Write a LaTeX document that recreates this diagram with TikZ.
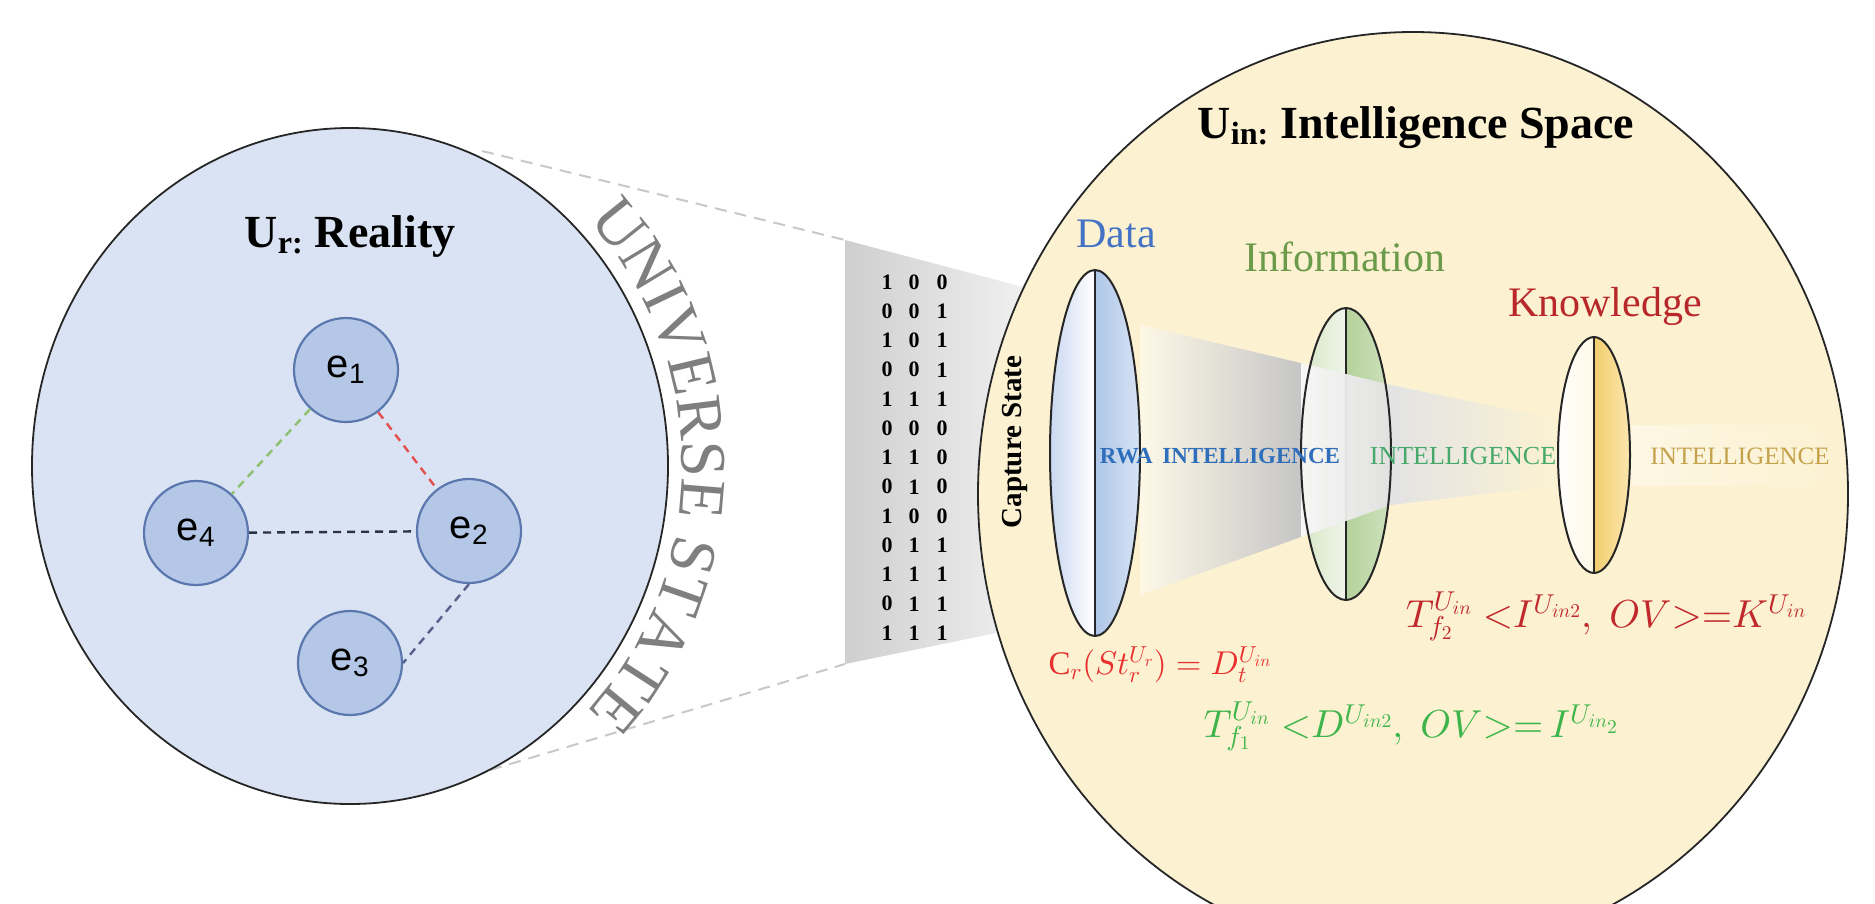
\documentclass[tikz,border=0pt]{standalone}
\usepackage{fontspec}
\setmainfont{Liberation Serif}
\newfontfamily\esans{Liberation Sans}
\DeclareFontShape{OML}{cmm}{m}{it}{<->cmmi10}{}
\DeclareFontShape{OMS}{cmsy}{m}{n}{<->cmsy10}{}
\DeclareFontShape{OT1}{cmr}{m}{n}{<->cmr10}{}
\usetikzlibrary{decorations.text,shapes.geometric}
\definecolor{leftfill}{HTML}{DAE3F3}
\definecolor{nodefill}{HTML}{B4C7E7}
\definecolor{nodeline}{HTML}{5B78AE}
\definecolor{rightfill}{HTML}{FCF2D2}
\definecolor{dashgray}{HTML}{C8C8C8}
\definecolor{unigray}{HTML}{7F7F7F}
\definecolor{cdata}{HTML}{4472C4}
\definecolor{cinfo}{HTML}{6A9A4A}
\definecolor{cknow}{HTML}{B8282B}
\definecolor{crwa}{HTML}{2F6EBA}
\definecolor{cint}{HTML}{46A86A}
\definecolor{cgold}{HTML}{C4A24C}
\definecolor{fred}{HTML}{E8302F}
\definecolor{fdred}{HTML}{C0282B}
\definecolor{fgreen}{HTML}{3DB54A}
\definecolor{egreen}{HTML}{8CBF6E}
\definecolor{ered}{HTML}{E4504F}
\definecolor{edark}{HTML}{2B3245}
\definecolor{eblue}{HTML}{56618C}
\newcommand\unifont{\fontsize{65}{65}\selectfont\color{unigray}}
\begin{document}
\begin{tikzpicture}[x=1pt,y=-1pt,
  enode/.style={circle,draw=nodeline,fill=nodefill,line width=2.2,minimum size=104,inner sep=0pt,font=\esans\fontsize{40}{40}\selectfont},
  edash/.style={dashed,dash pattern=on 8pt off 6pt,line width=2.4},
  graydash/.style={draw=dashgray,line width=2,dash pattern=on 12pt off 8pt},
  lensline/.style={draw=black!85,line width=2},
  bit/.style={font=\bfseries\fontsize{22}{22}\selectfont,inner sep=0pt},
  ttl/.style={font=\bfseries\fontsize{46}{50}\selectfont,anchor=base},
  lbl/.style={font=\fontsize{42}{44}\selectfont,anchor=base},
]
\useasboundingbox (0,0) rectangle (1875,903);
\fill[white] (0,0) rectangle (1875,903);
% beam outside the right circle
\shade[left color=gray!38,right color=gray!8] (845,240) -- (1050,294) -- (1050,622) -- (845,664) -- cycle;
% dashed projection lines
\coordinate (uA) at (482,151);
\coordinate (uB) at (845,240);
\coordinate (lA) at (490,770);
\coordinate (lB) at (845,664);
\draw[graydash] (uA) -- (uB);
\draw[graydash] (lA) -- (lB);
% left universe
\draw[fill=leftfill,line width=1.8,draw=black!85] (350,466) ellipse [x radius=318,y radius=338];
\node[ttl] (tr) at (350,247) {U\textsubscript{r:} Reality};
\node[enode] (e1) at (346,370) {e\textsubscript{1}};
\node[enode] (e2) at (469,531) {e\textsubscript{2}};
\node[enode] (e3) at (350,663) {e\textsubscript{3}};
\node[enode] (e4) at (196,533) {e\textsubscript{4}};
\draw[edash,draw=egreen] (e1) -- (e4);
\draw[edash,draw=ered] (e1) -- (e2);
\draw[edash,draw=edark] (e4) -- (e2);
\draw[edash,draw=eblue] (e2.south) -- (e3.east);
% universe state arc text
\path[decorate,decoration={text along path,text={|\unifont|UNIVERSE STATE},text align=center}]
  (350,466) ++(-58:332 and 352) arc[start angle=-58,end angle=58,x radius=332,y radius=352];
% binary matrix
\foreach \a/\b/\c [count=\i] in {1/0/0,0/0/1,1/0/1,0/0/1,1/1/1,0/0/0,1/1/0,0/1/0,1/0/0,0/1/1,1/1/1,0/1/1,1/1/1}{
  \node[bit] (m\i a) at (887,{282+29.25*(\i-1)}) {\a};
  \node[bit] (m\i b) at (914,{282+29.25*(\i-1)}) {\b};
  \node[bit] (m\i c) at (942,{282+29.25*(\i-1)}) {\c};
}
% right universe
\draw[fill=rightfill,line width=1.8,draw=black!85] (1413,494) ellipse [x radius=435,y radius=462];
\node[ttl] (tin) at (1416,138) {U\textsubscript{in:} Intelligence Space};
% data lens
\begin{scope}
\clip (1095,453) ellipse [x radius=45,y radius=183];
\shade[left color={rgb,255:red,200;green,215;blue,240},right color=white] (1049,269) rectangle (1095,637);
\shade[left color={rgb,255:red,175;green,198;blue,232},right color={rgb,255:red,216;green,228;blue,244}] (1095,269) rectangle (1141,637);
\end{scope}
\draw[lensline] (1095,270) -- (1095,636);
% information lens
\begin{scope}
\clip (1346,454) ellipse [x radius=45,y radius=146];
\shade[left color={rgb,255:red,213;green,230;blue,196},right color={rgb,255:red,240;green,245;blue,234}] (1300,307) rectangle (1346,601);
\shade[left color={rgb,255:red,181;green,209;blue,156},right color={rgb,255:red,207;green,226;blue,190}] (1346,307) rectangle (1392,601);
\end{scope}
\draw[lensline] (1346,308) -- (1346,600);
% beam inside intelligence space
\shade[left color=white!45!rightfill,right color=gray!45] (1140,325) -- (1301,363) -- (1301,537) -- (1140,595) -- cycle;
\shade[left color=gray!6,right color=gray!22,opacity=0.95] (1301,363) -- (1391,385) -- (1391,505) -- (1301,537) -- cycle;
\shade[left color=gray!22,right color=rightfill] (1391,385) -- (1560,420) -- (1560,485) -- (1391,505) -- cycle;
\shade[left color=white,right color=rightfill,opacity=0.4] (1631,425) rectangle (1838,485);
% knowledge lens
\begin{scope}
\clip (1594,455) ellipse [x radius=36,y radius=118];
\shade[left color=white,right color={rgb,255:red,255;green,248;blue,230}] (1557,336) rectangle (1594,574);
\shade[left color={rgb,255:red,242;green,206;blue,110},right color={rgb,255:red,251;green,231;blue,176}] (1594,336) rectangle (1631,574);
\end{scope}
\draw[lensline] (1594,337) -- (1594,573);
% lens outlines
\draw[lensline] (1095,453) ellipse [x radius=45,y radius=183];
\draw[lensline] (1346,454) ellipse [x radius=45,y radius=146];
\draw[lensline] (1594,455) ellipse [x radius=36,y radius=118];
% labels
\node[lbl,text=cdata] (ldata) at (1116,247) {Data};
\node[lbl,text=cinfo] (linfo) at (1345,271) {Information};
\node[lbl,text=cknow] (lknow) at (1605,316) {Knowledge};
\node[rotate=90,font=\bfseries\fontsize{29}{29}\selectfont] (cap) at (1015,442) {Capture State};
\node[anchor=base,text=crwa,font=\bfseries\fontsize{23}{23}\selectfont] (rwa) at (1220,463) {RWA\, INTELLIGENCE};
\node[anchor=base,text=cint,font=\fontsize{26}{26}\selectfont] (int2) at (1463,464) {INTELLIGENCE};
\node[anchor=base,text=cgold,font=\fontsize{25}{25}\selectfont] (int3) at (1740,464) {INTELLIGENCE};
% formulas
\node[text=fred,font=\fontsize{33}{33}\selectfont] (fC) at (1160,665) {$\mathrm{C}_r(St_r^{U_r}) = D_t^{U_{in}}$};
\node[text=fdred,font=\fontsize{39}{39}\selectfont] (fK) at (1606,616) {$T_{f_2}^{U_{in}}\;{<}I^{U_{in2}},\;OV{>}{=}K^{U_{in}}$};
\node[text=fgreen,font=\fontsize{39}{39}\selectfont] (fI) at (1411,726) {$T_{f_1}^{U_{in}}\;{<}D^{U_{in2}},\;OV{>}{=}\,I^{U_{in_2}}$};
\end{tikzpicture}
\end{document}
